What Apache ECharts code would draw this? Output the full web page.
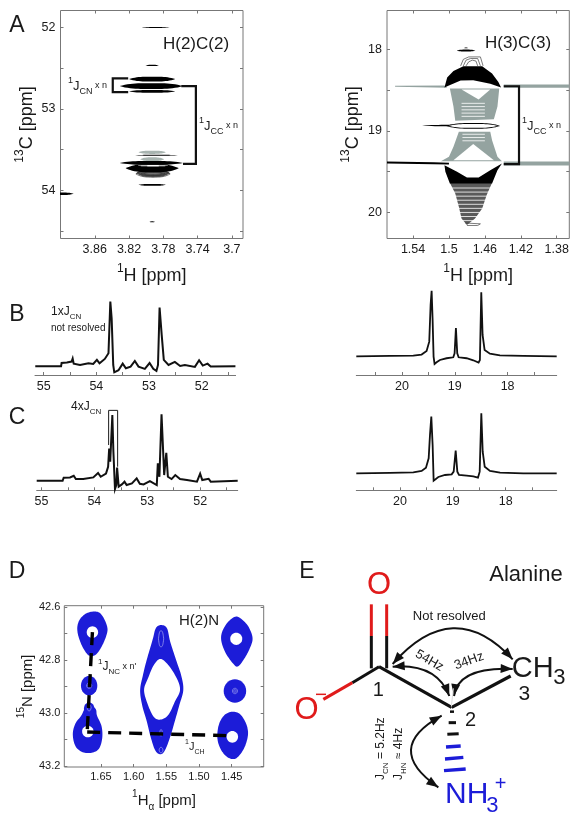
<!DOCTYPE html>
<html>
<head>
<meta charset="utf-8">
<style>html,body{margin:0;padding:0;background:#fff}#main{width:577px;height:828px}</style>
<script src="https://cdn.jsdelivr.net/npm/echarts@6/dist/echarts.min.js"></script>
</head>
<body>
<div id="main"></div>
<script>
// --- tick values ---
const aLeftXTicks = [3.86, 3.82, 3.78, 3.74, 3.7];
const aLeftYTicks = [52, 52.5, 53, 53.5, 54, 54.5];
const aLeftYLabels = [52, 53, 54];
const aRightXTicks = [1.54, 1.5, 1.46, 1.42, 1.38];
const aRightYTicks = [18, 18.5, 19, 19.5, 20];
const aRightYLabels = [18, 19, 20];
const leftSpecTicks = [55, 54.5, 54, 53.5, 53, 52.5, 52, 51.5];
const leftSpecLabels = [55, 54, 53, 52];
const rightSpecTicks = [20.5, 20, 19.5, 19, 18.5, 18, 17.5];
const rightSpecLabels = [20, 19, 18];
const dXTicks = [1.65, 1.6, 1.55, 1.5, 1.45];
const dYTicks = [42.6, 42.7, 42.8, 42.9, 43.0, 43.1, 43.2];
const dYLabels = [42.6, 42.8, 43.0, 43.2];

// --- 1D spectra: ppm and relative intensity ---
const bLeftPpm = [55.16,54.67,54.66,54.56,54.47,54.45,54.43,54.31,54.15,54.06,53.99,53.94,53.84,53.77,53.735,53.71,53.68,53.66,53.58,53.5,53.44,53.35,53.27,53.2,53.08,52.99,52.92,52.86,52.83,52.8,52.76,52.72,52.63,52.51,52.41,52.32,52.13,52.05,51.98,51.89,51.83,51.36];
const bLeftInt = [0,0,.05,.057,.072,.12,.04,.02,.046,.036,.1,.046,.113,.2,1,.74,.02,-.093,-.062,.04,-.03,-.005,.082,-.005,-.04,.05,-.04,-.072,.02,.907,.485,.098,.02,.067,.005,.02,-.01,.093,.01,.04,-.005,0];
const cLeftPpm = [55.09,54.6,54.58,54.46,54.39,54.35,54.21,54.02,53.93,53.88,53.78,53.74,53.72,53.7,53.66,53.64,53.61,53.585,53.57,53.54,53.48,53.43,53.39,53.29,53.2,53.14,53.07,52.95,52.82,52.8,52.77,52.73,52.68,52.64,52.61,52.54,52.47,52.38,52.25,52.06,52,51.96,51.84,51.8,51.29];
const cLeftInt = [0,0,.046,.05,.076,.025,.025,.05,.117,.06,.11,.213,.49,.29,1,.44,-.127,-.066,.2,-.09,-.056,-.015,-.066,-.04,.035,-.046,-.056,-.005,-.066,.264,.06,1.01,.086,.426,.06,.025,.086,.025,.01,-.015,.107,.01,.03,-.015,0];
const bRightPpm = [20.864,20.227,19.785,19.628,19.533,19.483,19.457,19.438,19.42,19.401,19.382,19.344,19.281,19.155,19.028,19.003,18.978,18.953,18.927,18.776,18.65,18.549,18.524,18.498,18.473,18.435,18.334,18.145,17.703,17.07];
const bRightInt = [0,.005,.01,.026,.08,.224,.786,1,.58,-.005,-.117,-.092,-.056,-.03,-.015,.046,.43,.046,-.015,-.03,-.061,-.097,-.056,.98,.327,.097,.04,.015,.005,0];
const cRightPpm = [20.826,20.189,19.748,19.59,19.508,19.457,19.432,19.407,19.382,19.363,19.331,19.274,19.148,19.022,18.984,18.946,18.915,18.883,18.738,18.612,18.524,18.492,18.461,18.435,18.397,18.297,18.107,17.666,17.035];
const cRightInt = [0,.006,.017,.039,.094,.25,.64,.944,.47,-.122,-.1,-.061,-.028,-.017,.028,.378,.028,-.028,-.039,-.05,-.072,.028,1,.36,.11,.039,.011,0,0];

// --- A left peaks: [1H, 13C, half width, half height] ---
const aLeftBlack = [[3.789,52,.0164,.006],[3.793,52.466,.0078,.008],[3.793,52.634,.027,.03],[3.794,52.72,.037,.036],[3.793,52.785,.027,.017],[3.788,53.571,.025,.006],[3.794,53.665,.037,.024],[3.793,53.73,.031,.05],[3.793,53.935,.016,.012],[3.793,54.39,.003,.006],[3.9,54.045,.0155,.016]];
const aLeftGray = [[3.793,53.534,.016,.02],[3.793,53.62,.014,.024]];
const aLeftShade = [[3.792,53.79,.019,.05]];
const aLeftContours = [[3.792,53.8,.02,.04],[3.792,53.8,.017,.03],[3.792,53.8,.014,.022],[3.792,53.8,.011,.015],[3.792,53.79,.019,.03],[3.792,53.78,.018,.025]];
const aLeftWhite = [[3.792,53.7,.018,.008]];
const aLeftJcn = [[3.821,52.626],[3.839,52.626],[3.839,52.793],[3.821,52.793]];
const aLeftJcc = [[3.759,52.72],[3.742,52.72],[3.742,53.677],[3.757,53.677]];

// --- A right regions, outlines in ppm ---
const aRightGrayAreas = [
  [[1.439,18.43],[1.366,18.43],[1.366,18.47],[1.439,18.47]],
  [[1.439,19.374],[1.366,19.374],[1.366,19.423],[1.439,19.423]],
  [[1.56,18.445],[1.505,18.44],[1.502,18.47],[1.56,18.455]],
  [[1.499,18.479],[1.444,18.479],[1.446,18.7],[1.45,18.855],[1.493,18.875],[1.495,18.7]],
  [[1.489,19.01],[1.454,19.01],[1.452,19.112],[1.446,19.317],[1.441,19.37],[1.509,19.37],[1.5,19.317],[1.495,19.194]]
];
const aRightWhiteAreas = [
  [[1.486,18.49],[1.454,18.49],[1.467,18.613]],
  [[1.473,19.16],[1.495,19.358],[1.45,19.358]]
];
const aRightWhiteLines = [
  [[1.486,18.66],[1.46,18.66]],[[1.486,18.7],[1.46,18.7]],[[1.486,18.74],[1.46,18.74]],[[1.486,18.78],[1.46,18.78]],[[1.486,18.82],[1.46,18.82]],
  [[1.485,19.04],[1.46,19.04]],[[1.485,19.08],[1.46,19.08]],[[1.485,19.12],[1.46,19.12]],
  [[1.5,19.7],[1.445,19.7]],[[1.5,19.75],[1.445,19.75]],[[1.5,19.8],[1.445,19.8]],[[1.5,19.85],[1.445,19.85]],[[1.5,19.9],[1.445,19.9]],[[1.5,19.95],[1.445,19.95]],[[1.5,20],[1.445,20]],[[1.5,20.05],[1.445,20.05]],[[1.5,20.1],[1.445,20.1]]
];
const aRightBlackAreas = [
  [[1.505,18.466],[1.502,18.344],[1.495,18.262],[1.484,18.204],[1.463,18.204],[1.452,18.294],[1.445,18.397],[1.442,18.466],[1.454,18.42],[1.473,18.376],[1.487,18.38],[1.5,18.44]],
  [[1.569,19.375],[1.517,19.385],[1.5,19.39],[1.5,19.41],[1.569,19.4]],
  [[1.505,19.419],[1.491,19.5],[1.48,19.571],[1.467,19.571],[1.454,19.481],[1.441,19.399],[1.446,19.481],[1.452,19.644],[1.499,19.644],[1.504,19.5]]
];
const aRightDarkAreas = [
  [[1.499,19.636],[1.452,19.636],[1.458,19.787],[1.463,19.951],[1.471,20.074],[1.48,20.155],[1.486,20.074],[1.489,19.93],[1.493,19.767]]
];
const aRightContours = [
  [[1.487,18.2],[1.484,18.12],[1.478,18.09],[1.465,18.09],[1.462,18.2]],
  [[1.484,18.2],[1.481,18.13],[1.476,18.11],[1.468,18.11],[1.465,18.2]],
  [[1.481,18.2],[1.478,18.15],[1.474,18.13],[1.47,18.14],[1.468,18.2]],
  [[1.482,20.13],[1.465,20.14],[1.468,20.16],[1.48,20.16]]
];
const aRightPeaks = [[1.481,18.012,.0104,.012],[1.481,17.98,.002,.005],[1.487,18.933,.043,.01],[1.473,18.937,.03,.035]];
const aRightRing = [[1.473,18.937,.0275,.024]];
const aRightJcc = [[1.439,18.45],[1.422,18.45],[1.422,19.407],[1.439,19.407]];

// --- C left bracket ---
const cLeftBracket = [[53.73,.543],[53.73,1.071],[53.56,1.071],[53.56,.213]];

// --- D blobs, outlines in ppm ---
const dBlobs = [
  [[1.662,42.617],[1.652,42.622],[1.645,42.645],[1.64,42.68],[1.642,42.71],[1.649,42.75],[1.657,42.778],[1.665,42.785],[1.672,42.775],[1.681,42.735],[1.686,42.69],[1.684,42.655],[1.675,42.628]],
  [[1.668,42.968],[1.658,42.985],[1.656,43.01],[1.649,43.05],[1.648,43.095],[1.653,43.135],[1.664,43.15],[1.678,43.148],[1.689,43.125],[1.693,43.08],[1.689,43.04],[1.68,43.01],[1.675,42.985]],
  [[1.558,42.668],[1.549,42.68],[1.544,42.731],[1.535,42.8],[1.527,42.86],[1.524,42.914],[1.53,42.97],[1.538,43.04],[1.544,43.09],[1.552,43.141],[1.559,43.156],[1.567,43.141],[1.574,43.09],[1.58,43.03],[1.587,42.97],[1.59,42.914],[1.586,42.86],[1.58,42.8],[1.571,42.724],[1.566,42.68]],
  [[1.443,42.636],[1.432,42.652],[1.423,42.68],[1.418,42.72],[1.423,42.76],[1.432,42.8],[1.441,42.825],[1.449,42.81],[1.46,42.77],[1.466,42.725],[1.464,42.69],[1.455,42.655]],
  [[1.449,42.995],[1.437,43.005],[1.428,43.04],[1.425,43.08],[1.43,43.128],[1.44,43.165],[1.449,43.174],[1.46,43.16],[1.469,43.125],[1.472,43.085],[1.469,43.04],[1.461,43.008]]
];
// ellipses: [1H, 15N, half width, half height]
const dSmallBlobs = [[1.668,42.897,.0125,.037],[1.445,42.917,.0172,.044],[1.668,42.985,.008,.025]];
const dSmallHoles = [[1.663,42.695,.0087,.022],[1.67,43.07,.0087,.022],[1.443,42.72,.0092,.023],[1.449,43.09,.0088,.022]];
const dHoleOutline = [[1.559,42.796],[1.547,42.819],[1.534,42.869],[1.529,42.914],[1.537,42.958],[1.547,43.008],[1.559,43.025],[1.569,43.015],[1.578,42.97],[1.584,42.914],[1.578,42.869],[1.569,42.819]];
const dSpots = [[1.668,42.897,.004,.01],[1.668,42.897,.0018,.005],[1.445,42.917,.004,.01],[1.445,42.917,.0018,.005],[1.668,42.98,.003,.012],[1.558,43.075,.002,.012],[1.558,43.14,.003,.01],[1.558,42.72,.004,.03]];
const dVertical = [[1.663,42.695],[1.671,43.072]];
const dHorizontal = [[1.671,43.072],[1.449,43.086]];

const FONT = '"Liberation Sans", Arial, sans-serif';
const INK = '#1a1a1a';
const AXIS_GRAY = '#777';
const BLUE = '#1c1cd8';

const grid = [], xAxis = [], yAxis = [], series = [];

function rich(size) {
  const small = Math.round(size * 0.66);
  const lh = Math.round(size * 1.5);
  const t = (fs, va) => ({ fontFamily: FONT, fontSize: fs, color: INK, fill: INK, lineHeight: lh, verticalAlign: va });
  return { n: t(size, 'middle'), u: t(small, 'top'), d: t(small, 'bottom'), s: t(Math.round(size * 0.72), 'middle') };
}

// one plot area; mirror axes add ticks on the top and right sides of a framed plot
function addPanel(o) {
  const g = grid.length;
  grid.push({ left: o.rect[0], top: o.rect[1], width: o.rect[2], height: o.rect[3], show: !!o.framed, borderColor: AXIS_GRAY, borderWidth: 1, backgroundColor: 'transparent', containLabel: false });
  const base = (ticks, labels, range, inverse, fmt, size) => ({
    type: 'value', gridIndex: g, min: range[0], max: range[1], inverse: inverse,
    splitLine: { show: false }, minorTick: { show: false },
    axisLine: { show: !o.framed, onZero: false, lineStyle: { color: AXIS_GRAY, width: 1 } },
    axisTick: { show: true, inside: true, length: 3, customValues: ticks, lineStyle: { color: AXIS_GRAY } },
    axisLabel: { show: true, customValues: labels, margin: o.margin || 5, fontFamily: FONT, fontSize: size || 12.5, color: INK, formatter: fmt, hideOverlap: false }
  });
  const xi = xAxis.length, yi = yAxis.length;
  const x = base(o.xTicks, o.xLabels, o.xRange, true, o.xFmt, o.labelSize);
  x.position = 'bottom';
  if (o.xName) Object.assign(x, { name: o.xName, nameLocation: 'middle', nameGap: o.xGap, nameTextStyle: { rich: rich(o.nameSize) } });
  xAxis.push(x);
  if (o.yTicks) {
    const y = base(o.yTicks, o.yLabels, o.yRange, true, o.yFmt, o.labelSize);
    y.position = 'left';
    if (o.yName) Object.assign(y, { name: o.yName, nameLocation: 'middle', nameGap: o.yGap, nameRotate: 90, nameTextStyle: { rich: rich(o.nameSize) } });
    yAxis.push(y);
    const tx = base(o.xTicks, [], o.xRange, true); tx.position = 'top'; tx.axisLabel = { show: false };
    const ty = base(o.yTicks, [], o.yRange, true); ty.position = 'right'; ty.axisLabel = { show: false };
    xAxis.push(tx); yAxis.push(ty);
  } else {
    yAxis.push({ type: 'value', gridIndex: g, min: o.yRange[0], max: o.yRange[1], show: false, splitLine: { show: false } });
  }
  return { xAxisIndex: xi, yAxisIndex: yi };
}

// flat peak cross-section with pointed ends
function lens(list, fill, ax, stroke) {
  series.push(Object.assign({
    type: 'custom', data: list, encode: { x: 0, y: 1 }, clip: true, silent: true,
    renderItem: (p, api) => {
      const cx = api.value(0), cy = api.value(1), hw = api.value(2), hh = api.value(3);
      const top = [], bottom = [];
      for (let i = 0; i <= 24; i++) {
        const u = -1 + i / 12;
        const off = hh * (1 - Math.pow(Math.abs(u), 3.2));
        top.push(api.coord([cx + hw * u, cy - off]));
        bottom.unshift(api.coord([cx + hw * u, cy + off]));
      }
      return { type: 'polygon', shape: { points: top.concat(bottom) }, style: { fill: stroke ? 'none' : fill, stroke: stroke || 'none', lineWidth: stroke ? 0.7 : 0 } };
    }
  }, ax));
}

function ellipses(list, fill, ax) {
  series.push(Object.assign({
    type: 'custom', data: list, encode: { x: 0, y: 1 }, clip: true, silent: true,
    renderItem: (p, api) => {
      const pts = [];
      for (let i = 0; i < 32; i++) {
        const a = i / 32 * Math.PI * 2;
        pts.push(api.coord([api.value(0) + api.value(2) * Math.cos(a), api.value(1) + api.value(3) * Math.sin(a)]));
      }
      return { type: 'polygon', shape: { points: pts }, style: { fill: fill } };
    }
  }, ax));
}

// rounded closed outline through the given corner points
function rounded(pts) {
  const out = [], n = pts.length;
  for (let i = 0; i < n; i++) {
    const p0 = pts[(i + n - 1) % n], p1 = pts[i], p2 = pts[(i + 1) % n], p3 = pts[(i + 2) % n];
    for (let k = 0; k < 8; k++) {
      const t = k / 8, t2 = t * t, t3 = t2 * t;
      out.push([0, 1].map(d => 0.5 * (2 * p1[d] + (p2[d] - p0[d]) * t + (2 * p0[d] - 5 * p1[d] + 4 * p2[d] - p3[d]) * t2 + (3 * p1[d] - p0[d] - 3 * p2[d] + p3[d]) * t3)));
    }
  }
  return out;
}

function area(list, fill, ax, round) {
  series.push(Object.assign({
    type: 'custom', data: list.map(pts => pts[0]), encode: { x: 0, y: 1 }, clip: true, silent: true,
    renderItem: (p, api) => {
      const pts = list[p.dataIndex].map(q => api.coord(q));
      return { type: 'polygon', shape: { points: round ? rounded(pts) : pts }, style: { fill: fill } };
    }
  }, ax));
}

function strokes(list, color, width, ax) {
  series.push(Object.assign({
    type: 'custom', data: list.map(pts => pts[0]), encode: { x: 0, y: 1 }, clip: true, silent: true,
    renderItem: (p, api) => ({ type: 'polyline', shape: { points: list[p.dataIndex].map(q => api.coord(q)) }, style: { fill: 'none', stroke: color, lineWidth: width } })
  }, ax));
}

function trace(data, ax, width, color, dash) {
  series.push(Object.assign({
    type: 'line', data: data, showSymbol: false, symbol: 'none', silent: true, animation: false, z: 5, clip: false,
    lineStyle: { color: color || '#111', width: width, type: dash || 'solid', join: 'miter', cap: 'butt' }
  }, ax));
}

const zip = (a, b) => a.map((v, i) => [v, b[i]]);

// Panel A left
const aL = addPanel({ framed: true, rect: [60.5, 10.5, 182.5, 228], xRange: [3.687, 3.9], yRange: [51.79, 54.595], xTicks: aLeftXTicks, xLabels: aLeftXTicks, yTicks: aLeftYTicks, yLabels: aLeftYLabels,
  xName: '{u|1}{n|H [ppm]}', xGap: 24, yName: '{u|13}{n|C [ppm]}', yGap: 20, nameSize: 18 });
lens(aLeftGray, '#a8b4b0', aL);
lens(aLeftShade, '#888', aL);
lens(aLeftContours, '', aL, '#333');
lens(aLeftBlack, '#000', aL);
lens(aLeftWhite, '#fff', aL);
trace(aLeftJcn, aL, 2.2);
trace(aLeftJcc, aL, 2.2);

// Panel A right
const aR = addPanel({ framed: true, rect: [387, 10.5, 182.3, 228], xRange: [1.366, 1.569], yRange: [17.52, 20.32], xTicks: aRightXTicks, xLabels: aRightXTicks, yTicks: aRightYTicks, yLabels: aRightYLabels,
  xName: '{u|1}{n|H [ppm]}', xGap: 24, yName: '{u|13}{n|C [ppm]}', yGap: 20, nameSize: 18 });
area(aRightGrayAreas, '#94a3a0', aR);
area(aRightWhiteAreas, '#fff', aR);
area(aRightDarkAreas, '#5a5a5a', aR);
strokes(aRightWhiteLines, '#fff', 0.8, aR);
strokes(aRightContours, '#444', 0.7, aR);
area(aRightBlackAreas, '#000', aR);
lens(aRightPeaks, '#000', aR);
lens(aRightRing, '#fff', aR);
trace(aRightJcc, aR, 2.2);

// Panels B and C
const bL = addPanel({ rect: [35, 295, 200.6, 80], xRange: [51.357, 55.165], yRange: [-.135, 1.1], xTicks: leftSpecTicks, xLabels: leftSpecLabels });
trace(zip(bLeftPpm, bLeftInt), bL, 2);
const bR = addPanel({ rect: [356.3, 285, 200.4, 90], xRange: [17.07, 20.864], yRange: [-.286, 1.09], xTicks: rightSpecTicks, xLabels: rightSpecLabels });
trace(zip(bRightPpm, bRightInt), bR, 1.8);
const cL = addPanel({ rect: [36.7, 408, 201, 82.3], xRange: [51.29, 55.09], yRange: [-.146, 1.107], xTicks: leftSpecTicks, xLabels: leftSpecLabels });
trace(zip(cLeftPpm, cLeftInt), cL, 2);
trace(cLeftBracket, cL, 1, INK);
const cR = addPanel({ rect: [356.3, 405, 200.4, 85.3], xRange: [17.035, 20.826], yRange: [-.283, 1.138], xTicks: rightSpecTicks, xLabels: rightSpecLabels });
trace(zip(cRightPpm, cRightInt), cR, 1.8);

// Panel D
const dP = addPanel({ framed: true, rect: [64.3, 605.7, 199.4, 161.3], xRange: [1.401, 1.706], yRange: [42.595, 43.204], xTicks: dXTicks, xLabels: dXTicks, yTicks: dYTicks, yLabels: dYLabels,
  xFmt: v => v.toFixed(2), yFmt: v => v.toFixed(1), labelSize: 11, margin: 4,
  xName: '{u|1}{n|H}{d|α}{n| [ppm]}', xGap: 22, yName: '{u|15}{n|N [ppm]}', yGap: 20, nameSize: 15 });
area(dBlobs, BLUE, dP, true);
ellipses(dSmallBlobs, BLUE, dP);
ellipses(dSmallHoles, '#fff', dP);
area([dHoleOutline], '#fff', dP, true);
lens(dSpots, '', dP, '#a9a9f0');
trace(dVertical, dP, 3.4, '#000', [13, 8]);
trace(dHorizontal, dP, 3.4, '#000', [13, 8]);

// --- text and the alanine sketch, placed on the page ---
const elements = [];
function text(str, x, y, size, opts) {
  const o = opts || {};
  elements.push({
    type: 'text', x: x, y: y, rotation: o.rot || 0, silent: true,
    style: { text: str, fontFamily: FONT, fontSize: size, fill: o.color || INK, rich: o.rich, textAlign: o.align || 'center', align: o.align || 'center', textVerticalAlign: 'middle', verticalAlign: 'middle' }
  });
}
function richText(str, x, y, size, opts) { text(str, x, y, size, Object.assign({ rich: rich(size), align: 'left' }, opts)); }

text('A', 17, 26, 23); text('B', 17, 315, 23); text('C', 17, 418, 23); text('D', 17, 572, 23); text('E', 307, 572, 23);
text('H(2)C(2)', 196, 44, 17);
text('H(3)C(3)', 518, 43, 17);
text('H(2)N', 199, 621, 15);
richText('{u|1}{n|J}{d|CN}{s| x n}', 68, 86, 13);
richText('{u|1}{n|J}{d|CC}{s| x n}', 199, 126, 13);
richText('{u|1}{n|J}{d|CC}{s| x n}', 522, 126, 13);
richText('{n|1xJ}{d|CN}', 51, 312, 12);
text('not resolved', 51, 328, 10, { align: 'left' });
richText('{n|4xJ}{d|CN}', 71, 407, 12);
richText('{u|1}{n|J}{d|NC}{s| x n\'}', 98, 667, 12);
richText('{u|1}{n|J}{d|CH}', 185, 747, 11);

// sketch coordinates below are taken as offsets on the E panel
const ex = v => 290 + v / 3, ey = v => 550 + v / 3;
function bond(x1, y1, x2, y2, color, width) {
  elements.push({ type: 'line', silent: true, shape: { x1: ex(x1), y1: ey(y1), x2: ex(x2), y2: ey(y2) }, style: { stroke: color, lineWidth: width || 3 } });
}
function head(tipX, tipY, fromX, fromY) {
  const a = Math.atan2(tipY - fromY, tipX - fromX), l = 12, w = 4.5;
  const tx = ex(tipX), ty = ey(tipY);
  const bx = tx - l * Math.cos(a), by = ty - l * Math.sin(a);
  elements.push({ type: 'polygon', silent: true, shape: { points: [[tx, ty], [bx - w * Math.sin(a), by + w * Math.cos(a)], [bx + w * Math.sin(a), by - w * Math.cos(a)]] }, style: { fill: '#111' } });
}
function arrow(x1, y1, cx, cy, x2, y2) {
  elements.push({ type: 'bezierCurve', silent: true, shape: { x1: ex(x1), y1: ey(y1), x2: ex(x2), y2: ey(y2), cpx1: ex(cx), cpy1: ey(cy) }, style: { stroke: '#111', lineWidth: 2, fill: 'none' } });
  head(x1, y1, cx, cy);
  head(x2, y2, cx, cy);
}
bond(244, 355, 244, 258, '#111'); bond(290, 355, 290, 258, '#111');
bond(244, 258, 244, 163, '#e01b1b'); bond(290, 258, 290, 163, '#e01b1b');
bond(267, 350, 187, 398, '#111'); bond(187, 398, 100, 448, '#e01b1b');
bond(267, 350, 485, 472, '#111', 3.2); bond(485, 472, 662, 378, '#111', 3.2);
bond(480, 485, 492, 485, '#111', 2.5); bond(476, 518, 498, 518, '#111', 3); bond(472, 553, 506, 551, '#111', 3);
bond(468, 591, 512, 588, BLUE, 3.4); bond(465, 627, 520, 622, BLUE, 3.4); bond(462, 662, 527, 657, BLUE, 3.4);
arrow(308, 342, 490, 135, 668, 328);
arrow(308, 350, 440, 340, 478, 438);
arrow(668, 357, 505, 350, 492, 438);
arrow(455, 497, 276, 595, 445, 712);
elements.push({ type: 'line', silent: true, shape: { x1: ex(490), y1: ey(415), x2: ex(484), y2: ey(470) }, style: { stroke: '#ddd', lineWidth: 1 } });

const molRed = { color: '#e01b1b' }, molBlue = { color: BLUE };
text('O', ex(267), ey(105), 31, molRed);
text('O', ex(50), ey(480), 31, molRed);
bond(78, 433, 108, 433, '#e01b1b', 1.5);
text('CH', ex(728), ey(357), 29);
text('3', ex(808), ey(385), 22);
text('3', ex(703), ey(432), 21);
text('1', ex(265), ey(422), 20);
text('2', ex(542), ey(510), 20);
text('NH', ex(530), ey(735), 30, molBlue);
text('3', ex(607), ey(768), 22, molBlue);
text('+', ex(632), ey(703), 20, molBlue);
text('Alanine', ex(708), ey(75), 22);
text('Not resolved', ex(478), ey(198), 13);
text('54Hz', ex(418), ey(332), 13, { rot: -0.52 });
text('34Hz', ex(537), ey(333), 13, { rot: 0.35 });
richText('{n|J}{d|CN}{n| = 5.2Hz}', ex(273), ey(690), 12, { rot: Math.PI / 2 });
richText('{n|J}{d|HN}{n| ≈ 4Hz}', ex(325), ey(690), 12, { rot: Math.PI / 2 });

const chart = echarts.init(document.getElementById('main'), null, { renderer: 'canvas' });
chart.setOption({ animation: false, backgroundColor: '#fff', grid, xAxis, yAxis, series, graphic: { elements } });
</script>
</body>
</html>
